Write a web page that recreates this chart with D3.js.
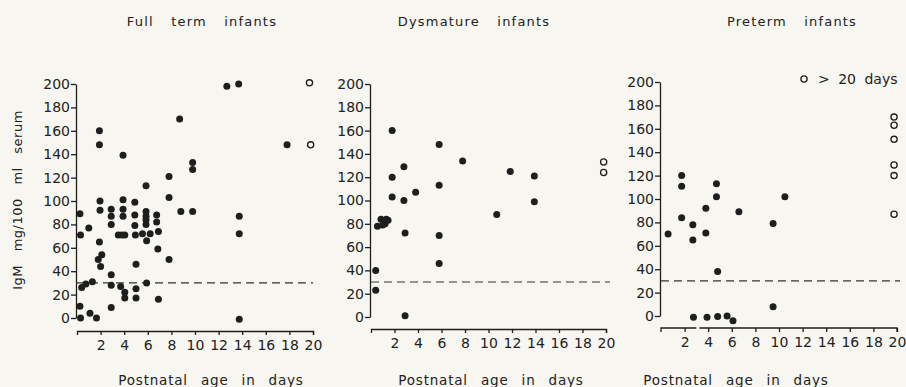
<!DOCTYPE html>
<html>
<head>
<meta charset="utf-8">
<script src="https://cdn.jsdelivr.net/npm/d3@7"></script>
<style>
  body { margin: 0; background: #f7f6f0; }
  text { font-family: "DejaVu Sans", sans-serif; fill: #222; }
</style>
</head>
<body>
<svg id="chart" width="906" height="387"></svg>
<script>
// values: [postnatal age (days), IgM mg/100 ml]
var fullTermDots = [
  [0.25, 89], [0.3, 71], [1.0, 77], [0.25, 10], [0.3, 0], [1.1, 4], [1.65, 0], [0.4, 26], [0.75, 29], [1.3, 31],
  [1.9, 160], [1.9, 148], [1.95, 100], [1.95, 92], [1.9, 65], [2.1, 54], [1.8, 50], [2.0, 44],
  [2.9, 93], [2.9, 87], [2.9, 80], [2.9, 37], [2.9, 28], [2.9, 9],
  [3.9, 139], [3.9, 101], [3.9, 93], [3.9, 87], [3.5, 71], [3.8, 71], [4.05, 71], [3.7, 27], [4.05, 22], [4.05, 17],
  [4.9, 99], [4.9, 88], [4.9, 79], [4.95, 71], [5.0, 46], [5.0, 25], [5.0, 17],
  [5.85, 113], [5.85, 91], [5.85, 87], [5.85, 84], [5.85, 80], [5.55, 72], [6.2, 72], [5.9, 66], [5.9, 30],
  [6.75, 88], [6.75, 82], [6.9, 74], [6.85, 59], [6.9, 16],
  [7.8, 121], [7.8, 103], [7.8, 50],
  [8.7, 170], [8.8, 91], [9.8, 133], [9.8, 127], [9.8, 91],
  [12.7, 198], [13.7, 200], [13.75, 87], [13.75, 72], [13.75, -1],
  [17.8, 148]
];
var fullTermOpen = [[19.7, 201], [19.8, 148]];

var dysmatureDots = [
  [0.4, 40], [0.4, 23], [0.55, 78], [0.85, 84], [1.0, 79], [1.2, 80], [1.3, 84], [1.45, 83],
  [1.8, 160], [1.8, 120], [1.8, 103], [2.8, 129], [2.8, 100], [2.9, 72], [2.9, 1], [3.8, 107],
  [5.8, 148], [5.8, 113], [5.8, 70], [5.8, 46], [7.8, 134], [10.7, 88], [11.85, 125], [13.9, 121], [13.9, 99]
];
var dysmatureOpen = [[19.8, 133], [19.8, 124]];

var pretermDots = [
  [0.6, 70], [1.75, 120], [1.75, 111], [1.75, 84], [2.7, 78], [2.7, 65], [2.75, -1], [3.8, 92], [3.8, 71], [3.9, -1],
  [4.7, 113], [4.7, 102], [4.8, 38], [4.8, -0.5], [5.6, 0], [6.1, -4], [6.6, 89], [9.5, 79], [9.5, 8], [10.5, 102]
];
var pretermOpen = [[19.75, 170], [19.75, 163], [19.75, 151], [19.75, 129], [19.75, 120], [19.75, 87]];

var titles = ["Full term infants", "Dysmature infants", "Preterm infants"];
var yTicks = d3.range(0, 201, 20);
var xTicks = d3.range(2, 21, 2);
var cutoff = 30;

// layout of the three panels (pixels)
var panels = [
  { dots: fullTermDots, open: fullTermOpen, x0: 77, x1: 313, y0: 318, y1: 84, axisY: 331, dashEnd: 313, titleX: 202, xlabX: 211 },
  { dots: dysmatureDots, open: dysmatureOpen, x0: 371, x1: 606, y0: 317, y1: 84, axisY: 329, dashEnd: 610, titleX: 474, xlabX: 491 },
  { dots: pretermDots, open: pretermOpen, x0: 661, x1: 897, y0: 316, y1: 82, axisY: 328, dashEnd: 900, titleX: 792, xlabX: 736, breakAt: 3 }
];

var svg = d3.select("#chart");
var ink = "#1e1e1e";

panels.forEach(function (p, i) {
  var x = d3.scaleLinear().domain([0, 20]).range([p.x0, p.x1]);
  var y = d3.scaleLinear().domain([0, 200]).range([p.y0, p.y1]);
  var g = svg.append("g");

  // y axis
  var yAxis = g.append("g")
    .attr("transform", "translate(" + (p.x0 - 1) + ",0)")
    .call(d3.axisLeft(y).tickValues(yTicks).tickSize(5).tickSizeOuter(0));
  yAxis.selectAll("path,line").attr("stroke", ink).attr("stroke-width", 1.3);
  yAxis.selectAll("text").attr("font-size", 14).attr("x", -6).style("font-family", "DejaVu Sans");

  // x axis
  var xAxis = g.append("g")
    .attr("transform", "translate(0," + p.axisY + ")")
    .call(d3.axisBottom(x).tickValues(xTicks).tickSize(4).tickSizeOuter(4));
  xAxis.selectAll("path,line").attr("stroke", ink).attr("stroke-width", 1.3);
  xAxis.selectAll("text").attr("font-size", 14).attr("y", 9).style("font-family", "DejaVu Sans");
  if (p.breakAt) {
    xAxis.select("path.domain").remove();
    xAxis.append("path")
      .attr("d", "M" + x(0) + ",4V0H" + x(p.breakAt) + "M" + (x(p.breakAt) + 3) + ",0H" + x(20) + "V4")
      .attr("fill", "none").attr("stroke", ink).attr("stroke-width", 1.3);
  }

  // cut-off line
  g.append("line")
    .attr("x1", x(0)).attr("x2", p.dashEnd)
    .attr("y1", y(cutoff)).attr("y2", y(cutoff))
    .attr("stroke", "#333").attr("stroke-width", 1.1)
    .attr("stroke-dasharray", "8,5");

  g.selectAll(".dot").data(p.dots).enter().append("circle")
    .attr("class", "dot")
    .attr("cx", d => x(d[0])).attr("cy", d => y(d[1]))
    .attr("r", 3.5).attr("fill", ink);

  g.selectAll(".open").data(p.open).enter().append("circle")
    .attr("class", "open")
    .attr("cx", d => x(d[0])).attr("cy", d => y(d[1]))
    .attr("r", 3.1).attr("fill", "none").attr("stroke", ink).attr("stroke-width", 1.3);

  g.append("text")
    .attr("x", p.titleX).attr("y", 26)
    .attr("text-anchor", "middle").attr("font-size", 13)
    .style("letter-spacing", "1.2px").style("word-spacing", "12px")
    .text(titles[i]);

  g.append("text")
    .attr("x", p.xlabX).attr("y", 385)
    .attr("text-anchor", "middle").attr("font-size", 13.5)
    .style("letter-spacing", "0.8px").style("word-spacing", "8px")
    .text("Postnatal age in days");
});

// y label
svg.append("text")
  .attr("transform", "translate(22,200) rotate(-90)")
  .attr("text-anchor", "middle").attr("font-size", 13)
  .style("letter-spacing", "0.5px").style("word-spacing", "9px")
  .text("IgM mg/100 ml serum");

// legend
svg.append("circle").attr("cx", 804).attr("cy", 79).attr("r", 3.1)
  .attr("fill", "none").attr("stroke", ink).attr("stroke-width", 1.3);
svg.append("text").attr("x", 818).attr("y", 84).attr("font-size", 14)
  .style("word-spacing", "4px")
  .text("> 20 days");
</script>
</body>
</html>
